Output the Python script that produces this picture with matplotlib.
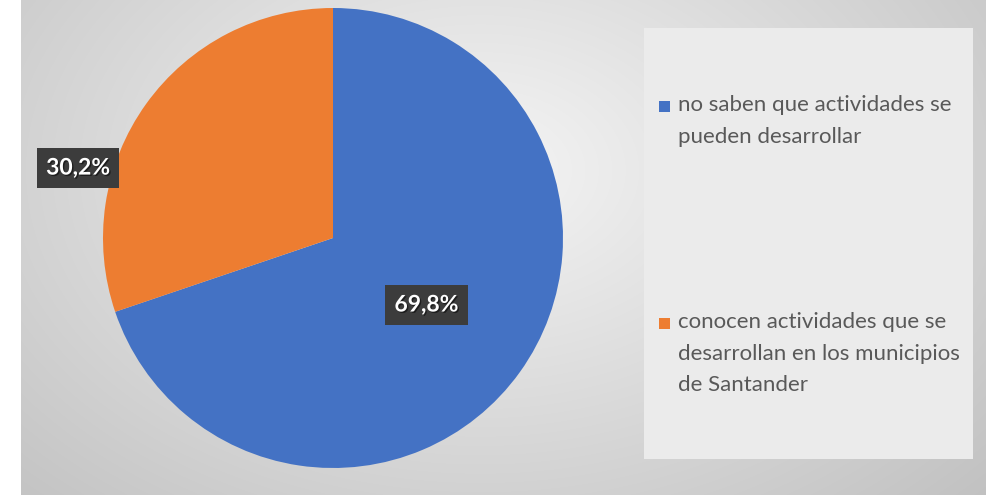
import numpy as np
import matplotlib.pyplot as plt
from matplotlib.patches import Rectangle
import matplotlib.patheffects as pe

# Datos
categorias = ['no saben que actividades se\npueden desarrollar',
              'conocen actividades que se\ndesarrollan en los municipios\nde Santander']
valores = [69.8, 30.2]
colores = ['#4472C4', '#ED7D31']

W, H = 986, 495
fig = plt.figure(figsize=(W / 100, H / 100), dpi=100)
fig.patch.set_facecolor('white')

# Fondo con degradado radial
bg = fig.add_axes([21 / W, 0, 1 - 21 / W, 1])
yy, xx = np.mgrid[0:H, 21:W]
r = np.sqrt(((xx - 480) / 480.0) ** 2 + ((yy - 170) / 330.0) ** 2)
val = np.clip(0.96 - 0.14 * r, 0, 1)
bg.imshow(np.dstack([val, val, val]), aspect='auto', extent=[0, 1, 0, 1], origin='upper')
bg.axis('off')

# Caja de la leyenda
fig.patches.append(Rectangle((644 / W, 1 - 459 / H), (973 - 644) / W, (459 - 28) / H,
                             transform=fig.transFigure, facecolor='#ebebeb', edgecolor='none', zorder=1))

# Torta
ax = fig.add_axes([103 / W, 1 - 468 / H, 460 / W, 460 / H])
wedges, textos, pcts = ax.pie(valores, colors=colores, startangle=90, counterclock=False,
                              autopct=lambda p: f'{p:.1f}%'.replace('.', ','),
                              pctdistance=0.5, radius=1)
ax.set_xlim(-1, 1)
ax.set_ylim(-1, 1)
ax.set_aspect('equal')

# Etiqueta del segmento naranja fuera de la torta
pcts[1].set_position((-1.108, 0.304))
for t in pcts:
    t.set_color('white')
    t.set_fontsize(16.5)
    t.set_fontweight('bold')
    t.set_fontfamily('Lato')
    t.set_path_effects([pe.withSimplePatchShadow(offset=(1, -1), shadow_rgbFace='black', alpha=0.5)])
    t.set_bbox(dict(boxstyle='square,pad=0.4', facecolor='#3c3c3c', edgecolor='none'))

# Leyenda manual
ys = [106, 323]
for col, lab, y in zip(colores, categorias, ys):
    fig.patches.append(Rectangle((659 / W, 1 - (y + 6) / H), 11 / W, 11 / H,
                                 transform=fig.transFigure, facecolor=col, edgecolor='none', zorder=2))
    fig.text(678 / W, 1 - (y - 11) / H, lab, ha='left', va='top', fontsize=16,
             family='Lato', color='#595959', linespacing=1.72, zorder=3)

fig.savefig('out.png', dpi=100)
